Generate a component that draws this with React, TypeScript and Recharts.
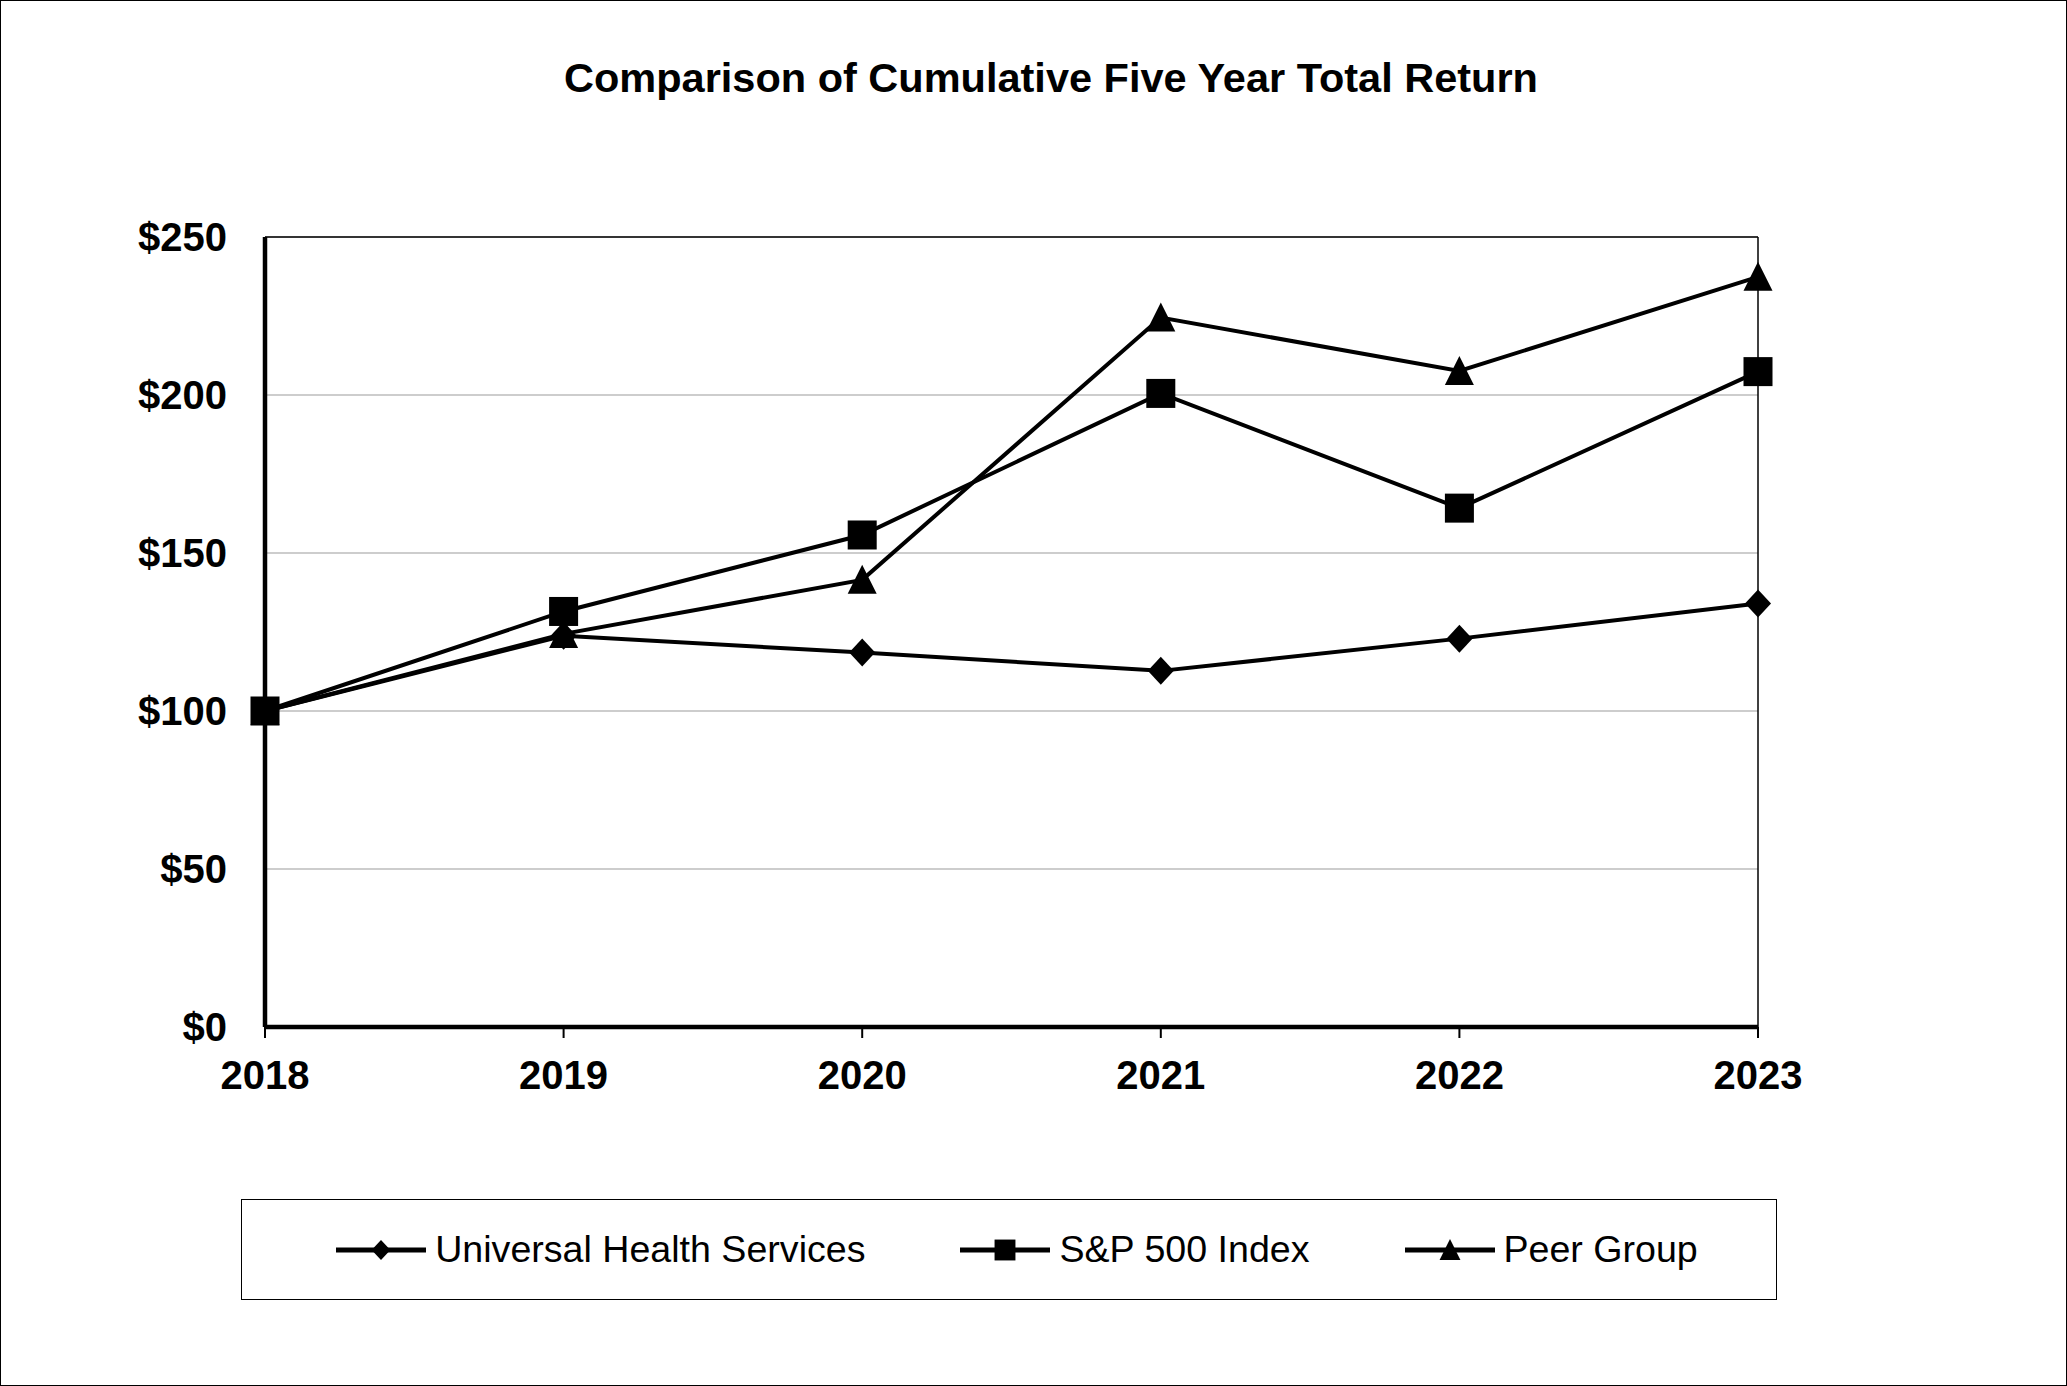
import React from 'react';
import {
  LineChart,
  Line,
  XAxis,
  YAxis,
  CartesianGrid,
  Legend,
  ReferenceLine,
} from 'recharts';

const years = ['2018', '2019', '2020', '2021', '2022', '2023'];
const uhsValues = [100, 123.8, 118.5, 112.7, 122.9, 134.0];
const spValues = [100, 131.5, 155.7, 200.5, 164.2, 207.4];
const peerValues = [100, 124.4, 141.5, 224.5, 207.6, 237.4];
const yTicks = [0, 50, 100, 150, 200, 250];

const seriesNames = {
  uhs: 'Universal Health Services',
  sp: 'S&P 500 Index',
  peer: 'Peer Group',
};

const data = years.map((year, i) => ({
  year,
  uhs: uhsValues[i],
  sp: spValues[i],
  peer: peerValues[i],
}));

const FONT = '"Liberation Sans", Arial, Helvetica, sans-serif';

type Shape = 'diamond' | 'square' | 'triangle';

function Marker({ cx, cy, shape, scale = 1 }: { cx: number; cy: number; shape: Shape; scale?: number }) {
  if (cx == null || cy == null) return null;
  if (shape === 'diamond') {
    const w = 13 * scale;
    const h = 14 * scale;
    return <polygon points={`${cx},${cy - h} ${cx + w},${cy} ${cx},${cy + h} ${cx - w},${cy}`} fill="#000" />;
  }
  if (shape === 'square') {
    const s = 14.5 * scale;
    return <rect x={cx - s} y={cy - s} width={s * 2} height={s * 2} fill="#000" />;
  }
  const w = 14.5 * scale;
  const h = 14 * scale;
  return <polygon points={`${cx},${cy - h - 1} ${cx + w},${cy + h} ${cx - w},${cy + h}`} fill="#000" />;
}

const dotFor = (shape: Shape) => (props: any) => (
  <Marker key={`${shape}-${props.index}`} cx={props.cx} cy={props.cy} shape={shape} />
);

const legendItems: { key: keyof typeof seriesNames; shape: Shape }[] = [
  { key: 'uhs', shape: 'diamond' },
  { key: 'sp', shape: 'square' },
  { key: 'peer', shape: 'triangle' },
];

function LegendBox() {
  return (
    <div
      style={{
        width: '100%',
        height: '100%',
        boxSizing: 'border-box',
        border: '1.5px solid #000',
        paddingLeft: 16,
        display: 'flex',
        alignItems: 'center',
        justifyContent: 'center',
        gap: 95,
        fontFamily: FONT,
        fontSize: 37.6,
        color: '#000',
      }}
    >
      {legendItems.map((item) => (
        <div key={item.key} style={{ display: 'flex', alignItems: 'center' }}>
          <svg width={90} height={30} style={{ marginRight: 9 }}>
            <line x1={0} y1={15} x2={90} y2={15} stroke="#000" strokeWidth={5} />
            <Marker cx={45} cy={15} shape={item.shape} scale={0.72} />
          </svg>
          <span>{seriesNames[item.key]}</span>
        </div>
      ))}
    </div>
  );
}

export default function App() {
  return (
    <div>
      <style>{`body { margin: 0; }`}</style>
      <div
        style={{
          position: 'relative',
          width: 2067,
          height: 1386,
          boxSizing: 'border-box',
          border: '1.5px solid #000',
          background: '#fff',
        }}
      >
        <div
          style={{
            position: 'absolute',
            top: 53,
            left: 0,
            width: 2100,
            textAlign: 'center',
            fontFamily: FONT,
            fontWeight: 'bold',
            fontSize: 41.5,
            color: '#000',
          }}
        >
          Comparison of Cumulative Five Year Total Return
        </div>
        <div style={{ position: 'absolute', top: 0, left: 0 }}>
          <LineChart
            width={2064}
            height={1383}
            data={data}
            margin={{ top: 236, right: 307, left: 0, bottom: 0 }}
          >
            <CartesianGrid vertical={false} stroke="#bdbdbd" strokeWidth={1.5} />
            <ReferenceLine y={250} stroke="#000" strokeWidth={1.5} />
            <ReferenceLine x="2023" stroke="#000" strokeWidth={1.5} />
            <XAxis
              dataKey="year"
              height={357}
              axisLine={{ stroke: '#000', strokeWidth: 4.5 }}
              tickLine={{ stroke: '#000', strokeWidth: 2 }}
              tickSize={11}
              tickMargin={23}
              tick={{ fill: '#000', fontSize: 40, fontWeight: 'bold', fontFamily: FONT }}
            />
            <YAxis
              width={264}
              domain={[0, 250]}
              ticks={yTicks}
              axisLine={{ stroke: '#000', strokeWidth: 4.5 }}
              tickLine={false}
              tickSize={0}
              tickMargin={38}
              tickFormatter={(v: number) => `$${v}`}
              tick={{ fill: '#000', fontSize: 40, fontWeight: 'bold', fontFamily: FONT }}
            />
            <Legend
              layout="horizontal"
              verticalAlign="middle"
              align="center"
              wrapperStyle={{ left: 240, top: 1198, width: 1536, height: 101 }}
              content={() => <LegendBox />}
            />
            <Line
              dataKey="uhs"
              name={seriesNames.uhs}
              stroke="#000"
              strokeWidth={4}
              dot={dotFor('diamond')}
              activeDot={false}
              isAnimationActive={false}
            />
            <Line
              dataKey="sp"
              name={seriesNames.sp}
              stroke="#000"
              strokeWidth={4}
              dot={dotFor('square')}
              activeDot={false}
              isAnimationActive={false}
            />
            <Line
              dataKey="peer"
              name={seriesNames.peer}
              stroke="#000"
              strokeWidth={4}
              dot={dotFor('triangle')}
              activeDot={false}
              isAnimationActive={false}
            />
          </LineChart>
        </div>
      </div>
    </div>
  );
}
